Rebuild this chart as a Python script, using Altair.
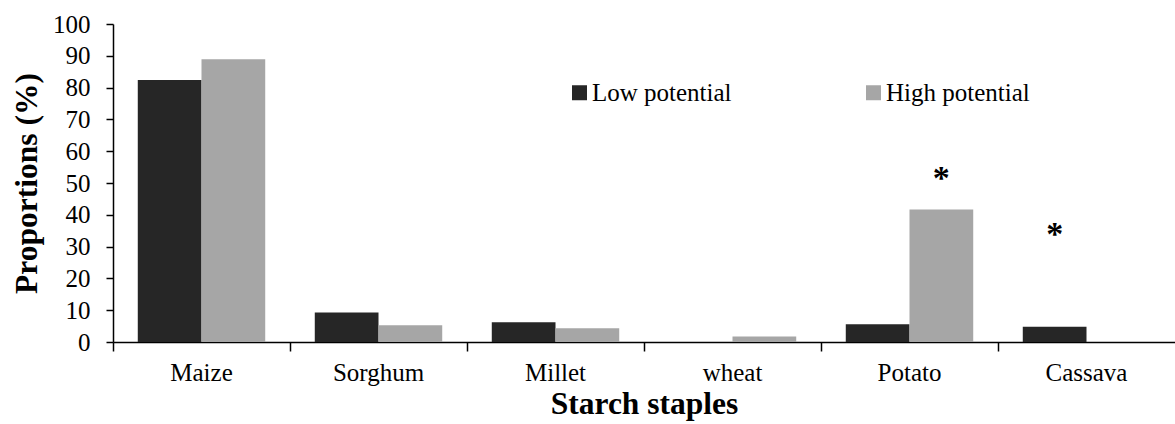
import altair as alt
import pandas as pd

categories = ["Maize", "Sorghum", "Millet", "wheat", "Potato", "Cassava"]
groups = ["Low potential", "High potential"]
low_values = [82.4, 9.3, 6.2, 0.0, 5.6, 4.8]
high_values = [88.9, 5.3, 4.3, 1.7, 41.7, 0.0]
colors = ["#262626", "#a6a6a6"]

star_categories = ["Potato", "Cassava"]
star_groups = ["High potential", "Low potential"]
star_values = [51.2, 33.6]
star_labels = ["*", "*"]

y_ticks = [0, 10, 20, 30, 40, 50, 60, 70, 80, 90, 100]

rows = []
for c, lo, hi in zip(categories, low_values, high_values):
    rows.append({"Category": c, "Group": groups[0], "Value": lo})
    rows.append({"Category": c, "Group": groups[1], "Value": hi})
df = pd.DataFrame(rows)

stars = pd.DataFrame({
    "Category": star_categories,
    "Group": star_groups,
    "Value": star_values,
    "Label": star_labels,
})

FONT = "Liberation Serif"
PAD_INNER = 0.28
PAD_OUTER = 0.14
W, H = 1062, 318
STEP = W / len(categories)

x_scale = alt.Scale(domain=categories, paddingInner=PAD_INNER, paddingOuter=PAD_OUTER)
xoff_scale = alt.Scale(domain=groups, paddingInner=0, paddingOuter=0)
y_scale = alt.Scale(domain=[0, 100], nice=False)

y_axis = alt.Axis(
    values=y_ticks,
    title="Proportions (%)",
    grid=False,
    domainColor="black",
    domainWidth=1.5,
    tickColor="black",
    tickWidth=1.5,
    tickSize=7,
    labelFont=FONT,
    labelFontSize=25,
    labelColor="black",
    labelPadding=16,
    titleFont=FONT,
    titleFontSize=31.5,
    titleFontWeight="bold",
    titleColor="black",
    titlePadding=9,
)

bars = alt.Chart(df).mark_bar().encode(
    x=alt.X(
        "Category:N",
        scale=x_scale,
        sort=categories,
        axis=alt.Axis(
            orient="bottom",
            title="Starch staples",
            labelAngle=0,
            ticks=False,
            domain=True,
            domainColor="black",
            domainWidth=1.5,
            labelFont=FONT,
            labelFontSize=25,
            labelColor="black",
            labelPadding=18,
            titleFont=FONT,
            titleFontSize=31.5,
            titleFontWeight="bold",
            titleColor="black",
            titlePadding=3,
            grid=False,
        ),
    ),
    xOffset=alt.XOffset("Group:N", scale=xoff_scale, sort=groups),
    y=alt.Y("Value:Q", scale=y_scale, axis=y_axis),
    color=alt.Color(
        "Group:N",
        scale=alt.Scale(domain=groups, range=colors),
        sort=groups,
        legend=alt.Legend(
            title=None,
            orient="none",
            legendX=454,
            legendY=56,
            direction="horizontal",
            symbolType="square",
            symbolSize=225,
            symbolStrokeWidth=0,
            symbolOpacity=1,
            labelFont=FONT,
            labelFontSize=25,
            labelColor="black",
            labelOffset=0,
            columnPadding=129,
        ),
    ),
)

star_text = alt.Chart(stars).mark_text(
    font=FONT, fontSize=34, fontWeight="bold", color="black", baseline="middle"
).encode(
    x=alt.X(
        "Category:N",
        scale=x_scale,
        sort=categories,
        axis=alt.Axis(
            orient="bottom",
            labels=False,
            domain=False,
            title=None,
            ticks=True,
            bandPosition=0,
            tickOffset=-PAD_OUTER * STEP,
            tickSize=9,
            tickColor="black",
            tickWidth=1.5,
            grid=False,
        ),
    ),
    xOffset=alt.XOffset("Group:N", scale=xoff_scale, sort=groups),
    y=alt.Y("Value:Q", scale=y_scale, axis=y_axis),
    text="Label:N",
)

chart = (
    alt.layer(bars, star_text)
    .resolve_axis(x="independent")
    .properties(
        width=W,
        height=H,
        padding={"left": 113, "top": 24, "right": 0, "bottom": 82},
        autosize=alt.AutoSizeParams(type="none"),
        background="white",
    )
    .configure_view(stroke=None)
)

chart.save("out.html", embed_options={"renderer": "svg", "actions": False})
